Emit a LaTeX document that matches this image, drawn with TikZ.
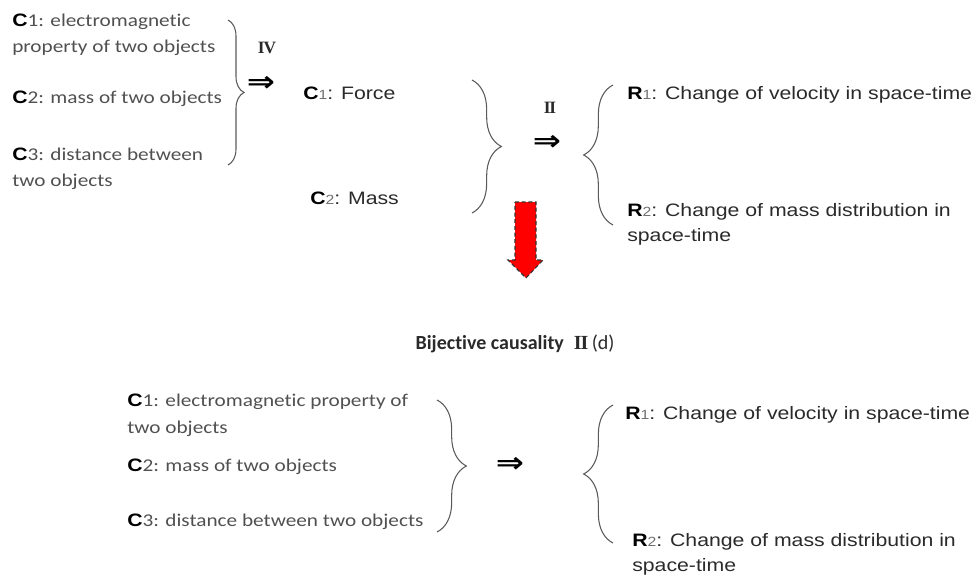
\documentclass[tikz,border=0pt]{standalone}
\usepackage{fontspec}
\setmainfont{Liberation Sans}[FakeStretch=1.18]
\newfontfamily\calfont{Carlito}[FakeStretch=1.18, Ligatures=NoCommon]
\newfontfamily\capfont{Carlito}[Ligatures=NoCommon]
\newfontfamily\arialb{Liberation Sans Bold}[FakeStretch=1.18]
\newfontfamily\romfont{Liberation Serif Bold}
\newfontfamily\symfont{DejaVu Sans Bold}[FakeStretch=1.2]
\usetikzlibrary{decorations.pathreplacing}
\definecolor{txtgray}{HTML}{505050}
\definecolor{darktxt}{HTML}{2A2A2A}
\definecolor{diggray}{HTML}{707070}
\definecolor{bracegray}{HTML}{5A5A5A}
\definecolor{arrowred}{HTML}{FF0000}
\newcommand\fsz{\fontsize{13.5}{19.5}\selectfont}
\newcommand\fsb{\fontsize{13.5}{20.25}\selectfont}
\newcommand\fsr{\fontsize{13.5}{18.75}\selectfont}
\newcommand\Cb{{\arialb\color{black}C}}
\newcommand\Rb{{\arialb\color{black}R}}
\newcommand\dig[1]{{\fontsize{10}{10}\selectfont\color{diggray}#1}}
\tikzset{
  lbl/.style={anchor=base west, inner sep=0pt, align=left, font=\fsz\calfont\color{txtgray}},
  lblb/.style={lbl, font=\fsb\calfont\color{txtgray}},
  rtx/.style={anchor=base west, inner sep=0pt, align=left, font=\fsr\color{darktxt}},
  implies/.style={inner sep=0pt, font=\fontsize{21}{21}\selectfont\symfont},
  roman/.style={inner sep=0pt, font=\fontsize{13}{13}\selectfont\romfont\color{darktxt}},
  bracebig/.style={draw=bracegray, line width=0.8pt, decorate, decoration={brace, amplitude=#1}},
}
\begin{document}
\begin{tikzpicture}[x=0.75pt,y=-0.75pt]
\useasboundingbox (0,0) rectangle (978,578);
% ---- top-left block (base = last line)
\node[lbl] (tl1) at (12,52) {\Cb1: electromagnetic\\property of two objects};
\node[lbl] (tl2) at (12,103) {\Cb2: mass of two objects};
\node[lbl] (tl3) at (12,186) {\Cb3: distance between\\two objects};
\coordinate (b1t) at (228,20);
\coordinate (b1b) at (228,165);
\draw[bracebig=12] (b1t) -- (b1b);
\node[roman] (r4) at (267,48) {I\kern-0.8ptV};
\node[implies] (imp1) at (261,84) {⇒};
% ---- middle
\node[rtx] (force) at (303,99) {\Cb\dig{1}: Force};
\node[rtx] (mass) at (310,204) {\Cb\dig{2}: Mass};
\coordinate (b2t) at (472,80);
\coordinate (b2b) at (472,213);
\draw[bracebig=22] (b2t) -- (b2b);
\node[roman] (r2) at (550,108) {I\kern-0.8ptI};
\node[implies] (imp2) at (547,143) {⇒};
\coordinate (b3t) at (613,85);
\coordinate (b3b) at (613,225);
\draw[bracebig=22] (b3b) -- (b3t);
\node[rtx] (tr1) at (627,99) {\Rb\dig{1}: Change of velocity in space-time};
\node[rtx] (tr2) at (627,241) {\Rb\dig{2}: Change of mass distribution in\\space-time};
% ---- red arrow
\draw[fill=arrowred, draw=black!80, dash pattern=on 3pt off 2pt, line width=0.8pt]
  (515,202) -- (536,202) -- (536,260) -- (543,260) -- (526,278) -- (508,260) -- (515,260) -- cycle;
% ---- caption
\node[inner sep=0pt, font=\fontsize{15}{15}\selectfont\capfont\color{darktxt}] (cap) at (515,344)
  {\textbf{Bijective causality}\enspace{\romfont I\kern-0.8ptI}\,(d)};
% ---- bottom-left block
\node[lblb] (bl1) at (127,433) {\Cb1: electromagnetic property of\\two objects};
\node[lbl] (bl2) at (127,471) {\Cb2: mass of two objects};
\node[lbl] (bl3) at (127,526) {\Cb3: distance between two objects};
\coordinate (b4t) at (437,400);
\coordinate (b4b) at (437,532);
\draw[bracebig=22] (b4t) -- (b4b);
\node[implies] (imp3) at (510,465) {⇒};
\coordinate (b5t) at (613,405);
\coordinate (b5b) at (613,543);
\draw[bracebig=22] (b5b) -- (b5t);
\node[rtx] (br1) at (625,419) {\Rb\dig{1}: Change of velocity in space-time};
\node[rtx] (br2) at (632,571) {\Rb\dig{2}: Change of mass distribution in\\space-time};
\end{tikzpicture}
\end{document}
